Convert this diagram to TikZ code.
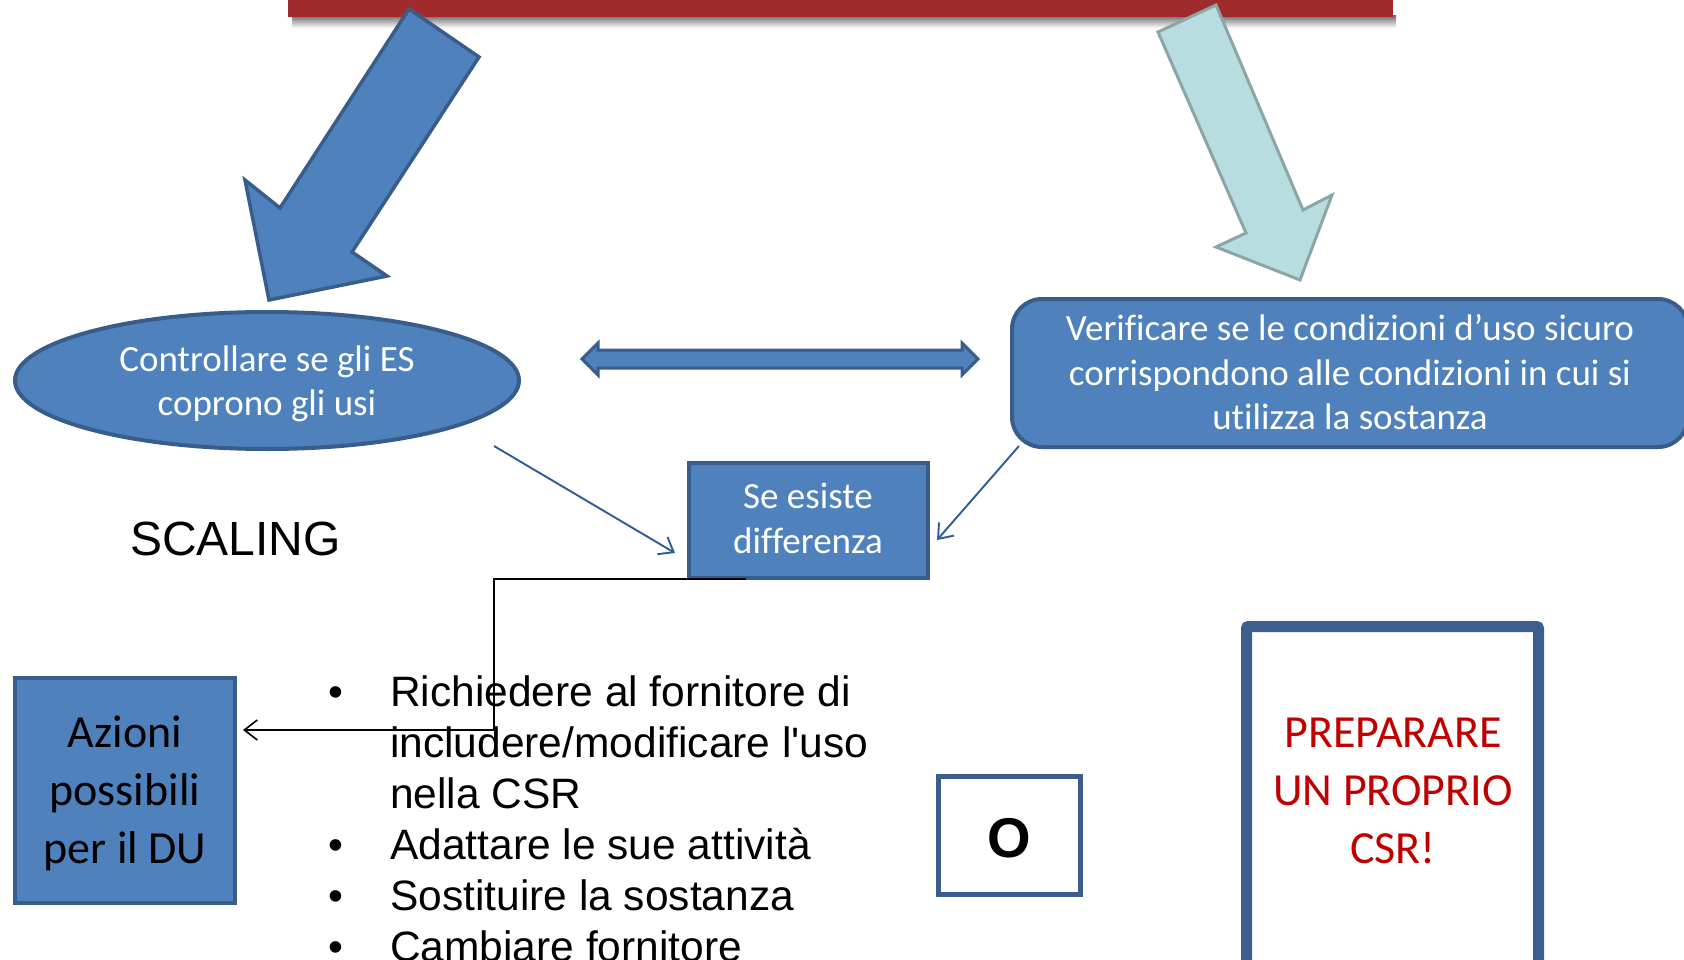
\documentclass[tikz,border=0pt]{standalone}
\usepackage{fontspec}
\setmainfont{Carlito}[Ligatures={NoCommon}]
\newfontfamily\arialf{Liberation Sans}[Ligatures={NoCommon}]
\usetikzlibrary{shapes.geometric,arrows.meta}
\definecolor{blueF}{HTML}{4F81BD}
\definecolor{blueD}{HTML}{385D8A}
\definecolor{frameD}{HTML}{3B5E8C}
\definecolor{tealF}{HTML}{B7DDE0}
\definecolor{tealD}{HTML}{8CA5A6}
\definecolor{redbar}{HTML}{A02B2D}
\definecolor{redtxt}{HTML}{C00000}
\definecolor{connblue}{HTML}{2F5C99}
\begin{document}
\begin{tikzpicture}[x=1pt,y=-1pt,
  bluebox/.style={draw=blueD,fill=blueF,line width=4pt,inner sep=0pt},
  wtext/.style={text=white,font=\fontsize{37}{44}\selectfont,anchor=base,inner sep=0pt},
  btext/.style={text=black,font=\fontsize{46}{58}\selectfont,anchor=base,inner sep=0pt},
  rtext/.style={text=redtxt,font=\fontsize{46}{58}\selectfont,anchor=base,inner sep=0pt},
  ltext/.style={text=black,font=\arialf\fontsize{42.5}{51}\selectfont,anchor=base west,inner sep=0pt},
  bul/.style={text=black,font=\arialf\fontsize{42.5}{51}\selectfont,anchor=base,inner sep=0pt},
  conn/.style={draw=connblue,line width=1.9pt,-{Straight Barb[length=13pt,width=20pt]}},
  bigarrowL/.style={fill=blueF,draw=blueD,line width=3.5pt,line join=miter},
  bigarrowR/.style={fill=tealF,draw=tealD,line width=3pt,line join=miter}
]
\useasboundingbox (0,0) rectangle (1684,960);
\clip (0,0) rectangle (1684,960);
\fill[white] (0,0) rectangle (1684,960);

% title bar (cut off at top)
\shade[top color=black!55,bottom color=white] (292,16) rectangle (1396,28);
\fill[redbar] (288,-10) rectangle (1393,17);

% big arrows
\draw[bigarrowL] (409,9) -- (479,57) -- (352,252) -- (387,276) -- (269,300) -- (245,180) -- (280,208) -- cycle;
\draw[bigarrowR] (1216,5) -- (1158,32) -- (1246,233) -- (1216,247) -- (1300,280) -- (1332,195) -- (1303,210) -- cycle;

% ellipse
\node[bluebox,ellipse,minimum width=504pt,minimum height=137pt] (es) at (267,380.5) {};
\node[wtext] (es1) at (267,371) {Controllare se gli ES};
\node[wtext] (es2) at (267,415) {coprono gli usi};

% double arrow
\draw[fill=blueF,draw=blueD,line width=3pt,line join=miter]
  (582,359) -- (598,343) -- (598,350) -- (962,350) -- (962,343) -- (978,359)
  -- (962,375) -- (962,368) -- (598,368) -- (598,375) -- cycle;

% rounded box
\node[bluebox,rounded corners=30pt,minimum width=676pt,minimum height=148pt] (vf) at (1350,373) {};
\node[wtext] (vf1) at (1350,340) {Verificare se le condizioni d’uso sicuro};
\node[wtext] (vf2) at (1350,385) {corrispondono alle condizioni in cui si};
\node[wtext] (vf3) at (1350,429) {utilizza la sostanza};

% se esiste differenza
\node[bluebox,minimum width=239pt,minimum height=115pt] (diff) at (808.5,520.5) {};
\node[wtext] (diff1) at (808,508) {Se esiste};
\node[wtext] (diff2) at (808,553) {differenza};

% thin connectors
\coordinate (a1) at (494,446);
\coordinate (a2) at (675,553);
\draw[conn] (a1) -- (a2);
\coordinate (b1) at (1019,446);
\coordinate (b2) at (937,540);
\draw[conn] (b1) -- (b2);

% SCALING
\node[text=black,font=\arialf\fontsize{48}{56}\selectfont,anchor=base west,inner sep=0pt] (scal) at (130,555) {SCALING};

% azioni box
\node[bluebox,minimum width=220pt,minimum height=225pt] (az) at (125,790.5) {};
\node[btext] (az1) at (125,747) {Azioni};
\node[btext] (az2) at (125,805) {possibili};
\node[btext] (az3) at (125,863) {per il DU};

% black connector
\coordinate (c1) at (746,579);
\coordinate (c2) at (494,579);
\coordinate (c3) at (494,730);
\coordinate (c4) at (243,730);
\draw[black,line width=1.6pt,-{Straight Barb[length=13pt,width=20pt]}] (c1) -- (c2) -- (c3) -- (c4);

% bullet list
\node[bul] (u1) at (336,706) {•};
\node[ltext] (l1) at (390,706) {Richiedere al fornitore di};
\node[ltext] (l2) at (390,757) {includere/modificare l'uso};
\node[ltext] (l3) at (390,808) {nella CSR};
\node[bul] (u2) at (336,859) {•};
\node[ltext] (l4) at (390,859) {Adattare le sue attività};
\node[bul] (u3) at (336,910) {•};
\node[ltext] (l5) at (390,910) {Sostituire la sostanza};
\node[bul] (u4) at (336,961) {•};
\node[ltext] (l6) at (390,961) {Cambiare fornitore};

% O box
\node[draw=frameD,fill=white,line width=5pt,minimum width=142pt,minimum height=118pt,inner sep=0pt] (obox) at (1009.5,835.5) {};
\node[text=black,font=\arialf\bfseries\fontsize{56}{60}\selectfont,anchor=base,inner sep=0pt] (otext) at (1009,857) {O};

% preparare box
\node[draw=frameD,fill=white,line width=11pt,minimum width=292pt,minimum height=360pt,inner sep=0pt,rounded corners=2pt] (prep) at (1392.5,806.5) {};
\node[rtext] (p1) at (1393,747) {PREPARARE};
\node[rtext] (p2) at (1393,805) {UN PROPRIO};
\node[rtext] (p3) at (1393,863) {CSR!};
\end{tikzpicture}
\end{document}
